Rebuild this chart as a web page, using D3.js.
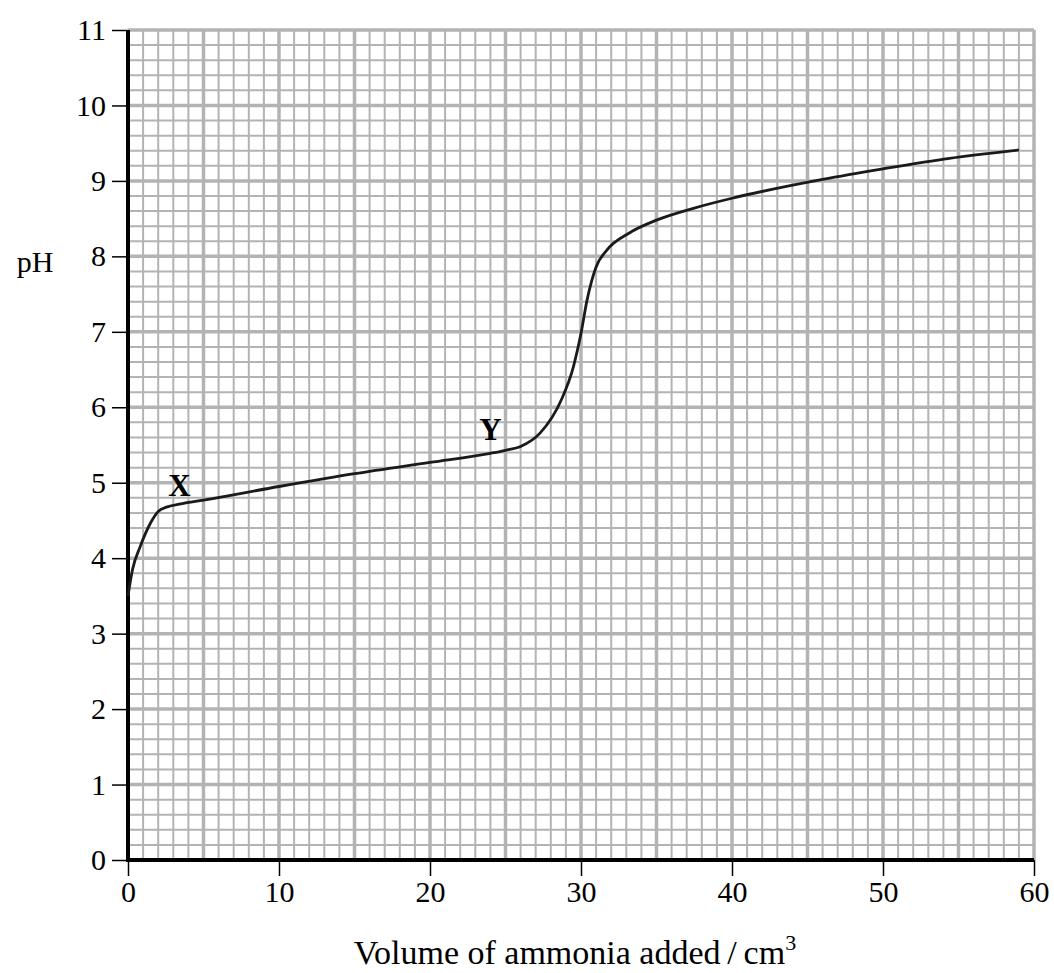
<!DOCTYPE html>
<html>
<head>
<meta charset="utf-8">
<script src="https://cdn.jsdelivr.net/npm/d3@7"></script>
<style>
  body { margin: 0; background: #fff; }
  svg { display: block; }
</style>
</head>
<body>
<svg id="chart" width="1054" height="973"></svg>
<script>
// Curve readings (volume in cm3, pH)
const volume = [0, 0.3, 0.8, 1.5, 2.0, 2.6, 3.5, 5, 10, 15, 20, 24, 25, 26, 27.3, 28.7, 29.5, 30, 30.4, 31, 31.7, 33.2, 35, 37.5, 40, 46, 50, 54.4, 59];
const pH = [3.5, 3.85, 4.15, 4.47, 4.62, 4.68, 4.72, 4.77, 4.95, 5.12, 5.27, 5.39, 5.43, 5.48, 5.66, 6.1, 6.54, 6.98, 7.42, 7.86, 8.08, 8.31, 8.48, 8.64, 8.77, 9.02, 9.16, 9.3, 9.41];
const xTicks = [0, 10, 20, 30, 40, 50, 60];
const yTicks = [0, 1, 2, 3, 4, 5, 6, 7, 8, 9, 10, 11];
const pointLabels = ["X", "Y"];
const labelAt = [[3.4, 4.83], [24.0, 5.57]];

const svg = d3.select("#chart");
const fontFamily = "'Liberation Serif', 'Times New Roman', serif";
const gridColor = "#b3b3b3";

const x = d3.scaleLinear().domain([0, 60]).range([128, 1034]);
const y = d3.scaleLinear().domain([0, 11]).range([860, 30]);

// Grid: minor every 1 cm3 / 0.2 pH, major every 5 cm3 / 1 pH
const grid = svg.append("g");
d3.range(0, 61).forEach(v => {
  grid.append("line")
    .attr("x1", x(v)).attr("x2", x(v))
    .attr("y1", y(0)).attr("y2", y(11))
    .attr("stroke", gridColor)
    .attr("stroke-width", v % 5 === 0 ? 3.5 : 2);
});
d3.range(0, 56).forEach(i => {
  const v = i / 5;
  grid.append("line")
    .attr("x1", x(0)).attr("x2", x(60))
    .attr("y1", y(v)).attr("y2", y(v))
    .attr("stroke", gridColor)
    .attr("stroke-width", i % 5 === 0 ? 3.5 : 2);
});

// Axes
const xAxis = svg.append("g")
  .attr("transform", `translate(0,${y(0)})`)
  .call(d3.axisBottom(x).tickValues(xTicks).tickSize(16).tickPadding(5).tickFormat(d3.format("d")));
const yAxis = svg.append("g")
  .attr("transform", `translate(${x(0)},0)`)
  .call(d3.axisLeft(y).tickValues(yTicks).tickSize(16).tickPadding(6).tickFormat(d3.format("d")));

[xAxis, yAxis].forEach(a => {
  a.select(".domain").remove();
  a.selectAll(".tick line").attr("stroke", "#000").attr("stroke-width", 1.5);
  a.selectAll(".tick text")
    .attr("fill", "#000")
    .style("font-family", fontFamily)
    .style("font-size", "30px");
});

// Heavy axis lines
svg.append("line")
  .attr("x1", x(0)).attr("x2", x(0))
  .attr("y1", y(0) + 2).attr("y2", y(11))
  .attr("stroke", "#000").attr("stroke-width", 4);
svg.append("line")
  .attr("x1", x(0)).attr("x2", x(60))
  .attr("y1", y(0)).attr("y2", y(0))
  .attr("stroke", "#000").attr("stroke-width", 4);

// Titration curve
const line = d3.line()
  .x((d, i) => x(volume[i]))
  .y(d => y(d))
  .curve(d3.curveMonotoneX);

svg.append("path")
  .datum(pH)
  .attr("d", line)
  .attr("fill", "none")
  .attr("stroke", "#1a1a1a")
  .attr("stroke-width", 2.8);

// Point labels
svg.selectAll(".pt-label")
  .data(pointLabels)
  .enter().append("text")
  .attr("x", (d, i) => x(labelAt[i][0]))
  .attr("y", (d, i) => y(labelAt[i][1]))
  .attr("text-anchor", "middle")
  .style("font-family", fontFamily)
  .style("font-weight", "bold")
  .style("font-size", "31px")
  .text(d => d);

// Axis titles
svg.append("text")
  .attr("x", 35)
  .attr("y", 272)
  .attr("text-anchor", "middle")
  .style("font-family", fontFamily)
  .style("font-size", "30px")
  .text("pH");

const xTitle = svg.append("text")
  .attr("x", 575)
  .attr("y", 964)
  .attr("text-anchor", "middle")
  .style("font-family", fontFamily)
  .style("font-size", "34px");
xTitle.append("tspan").text("Volume of ammonia added\u2009/\u2009cm");
xTitle.append("tspan").attr("dy", -14).style("font-size", "22px").text("3");
</script>
</body>
</html>
